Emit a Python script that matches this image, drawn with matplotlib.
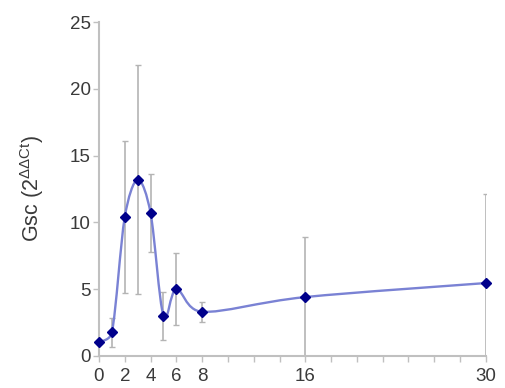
import matplotlib
matplotlib.use("Agg")
import matplotlib.pyplot as plt
from matplotlib.path import Path
from matplotlib.patches import PathPatch
import numpy as np

plt.rcParams['font.family'] = ['Liberation Sans', 'DejaVu Sans']
plt.rcParams['mathtext.fontset'] = 'custom'
plt.rcParams['mathtext.rm'] = 'Liberation Sans'

days = [0, 1, 2, 3, 4, 5, 6, 8, 16, 30]
gsc = [1.0, 1.75, 10.4, 13.2, 10.7, 3.0, 5.0, 3.3, 4.4, 5.45]
gsc_err = [0.0, 1.1, 5.7, 8.6, 2.95, 1.8, 2.7, 0.75, 4.5, 6.7]
tick_labels = {0: "0", 2: "2", 4: "4", 6: "6", 8: "8", 16: "16", 30: "30"}

LINE_COLOR = '#7a82d4'
MARKER_COLOR = '#00008b'
ERR_COLOR = '#b4b4b4'
SPINE_COLOR = '#c0c0c0'
TEXT_COLOR = '#3a3a3a'


def smooth_path(xs, ys):
    # smoothed line as bezier segments (catmull-rom tangents,
    # handles clamped to half the segment so short steps don't overshoot)
    pts = np.column_stack([xs, ys]).astype(float)
    n = len(pts)
    verts = [pts[0]]
    codes = [Path.MOVETO]
    for i in range(n - 1):
        p0 = pts[max(i - 1, 0)]
        p1, p2 = pts[i], pts[i + 1]
        p3 = pts[min(i + 2, n - 1)]
        L = np.hypot(*(p2 - p1)) / 2.0
        h1 = (p2 - p0) / 6.0
        h2 = (p3 - p1) / 6.0
        if np.hypot(*h1) > L:
            h1 = h1 / np.hypot(*h1) * L
        if np.hypot(*h2) > L:
            h2 = h2 / np.hypot(*h2) * L
        verts += [p1 + h1, p2 - h2, p2]
        codes += [Path.CURVE4] * 3
    return Path(verts, codes)


fig = plt.figure(figsize=(5.05, 3.88), dpi=100)
ax = fig.add_axes([0.196, 0.083, 0.766, 0.86])

ax.errorbar(days, gsc, yerr=gsc_err, fmt='none', ecolor=ERR_COLOR,
            elinewidth=1.2, capsize=2.5, capthick=1.0, zorder=1)
ax.add_patch(PathPatch(smooth_path(days, gsc), facecolor='none',
                       edgecolor=LINE_COLOR, lw=1.7, zorder=2))
ax.plot(days, gsc, 'D', color=MARKER_COLOR, ms=5.5, zorder=3, clip_on=False)

ax.set_xlim(0, 30)
ax.set_ylim(0, 25)
xt = np.arange(0, 31, 2)
ax.set_xticks(xt)
ax.set_xticklabels([tick_labels.get(int(t), "") for t in xt])
ax.set_yticks(np.arange(0, 26, 5))

for side in ['top', 'right']:
    ax.spines[side].set_visible(False)
for side in ['left', 'bottom']:
    ax.spines[side].set_color(SPINE_COLOR)
    ax.spines[side].set_linewidth(1.5)

ax.tick_params(axis='both', colors=SPINE_COLOR, labelcolor=TEXT_COLOR,
               labelsize=13.5, length=4, width=1.0, direction='out')
ax.tick_params(axis='x', pad=5)
ax.tick_params(axis='y', pad=2)
ax.set_ylabel(r'Gsc (2$^{\mathregular{\Delta\Delta Ct}}$)', fontsize=15.5,
              color=TEXT_COLOR, labelpad=17)

fig.savefig("out.png", dpi=100)
